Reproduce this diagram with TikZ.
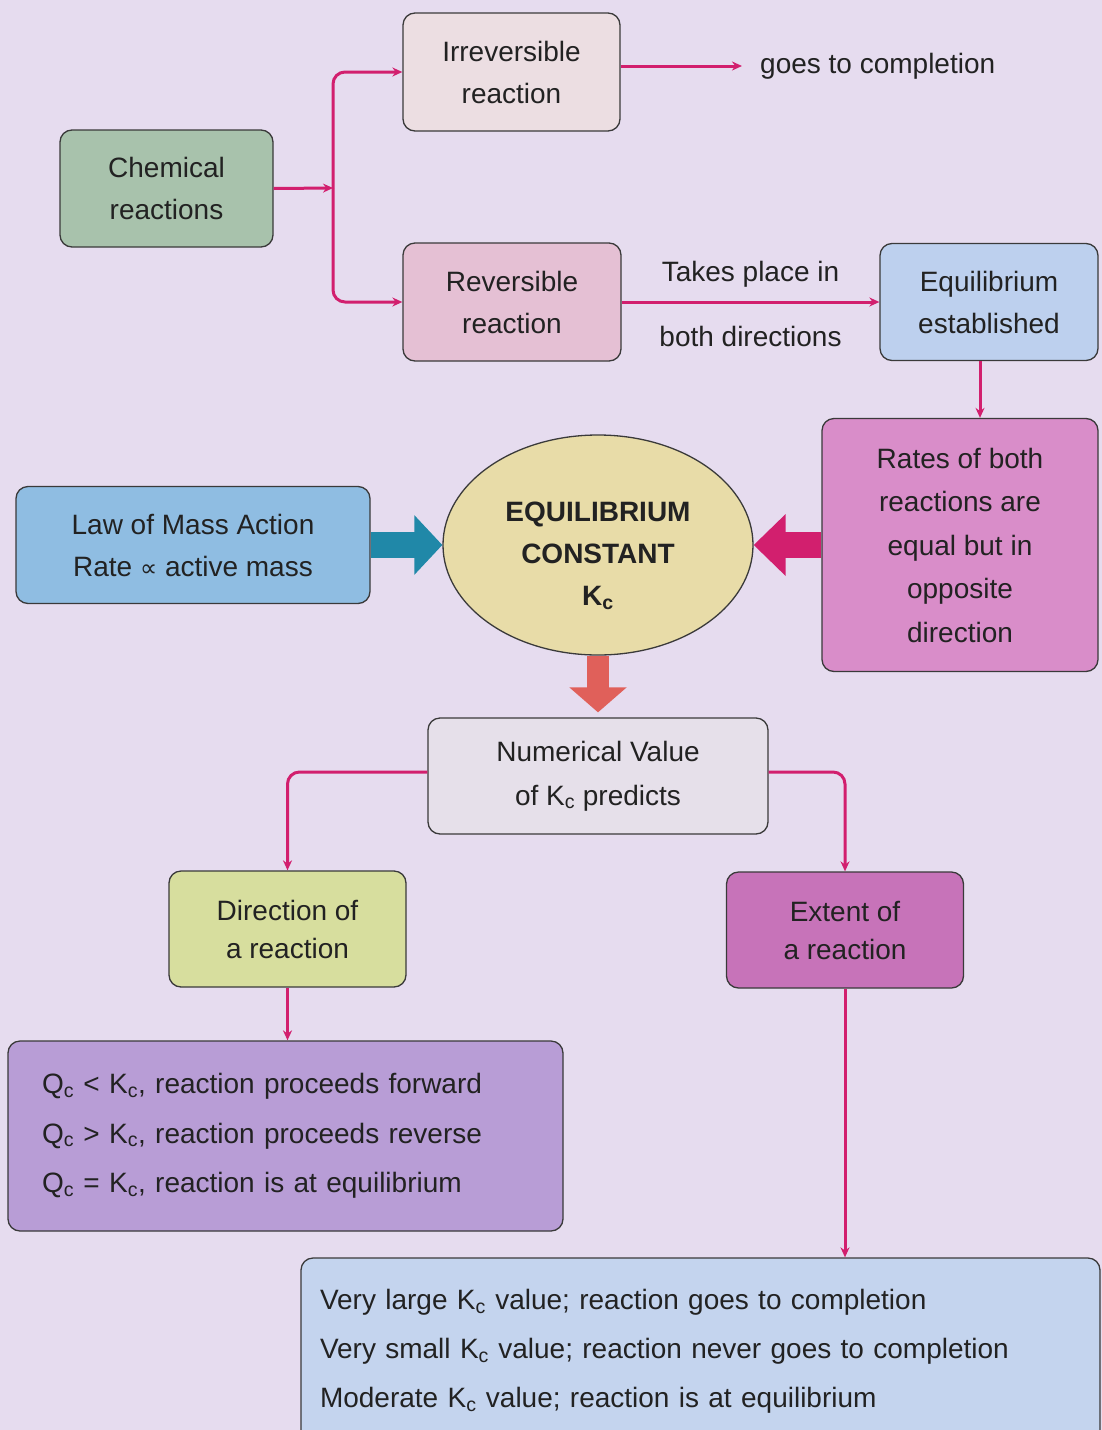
\documentclass[tikz,border=0pt]{standalone}
\usepackage{fontspec}
\setmainfont{Liberation Sans}
\newfontfamily\dejavu{DejaVu Sans}
\usetikzlibrary{arrows.meta,shapes.geometric}
\definecolor{bg}{HTML}{E6DCEF}
\definecolor{boxline}{HTML}{3A3A3A}
\definecolor{conncol}{HTML}{D21F6E}
\definecolor{chemfill}{HTML}{A8C2AC}
\definecolor{irrfill}{HTML}{ECDEE2}
\definecolor{revfill}{HTML}{E5C0D4}
\definecolor{eqbfill}{HTML}{BDD0EE}
\definecolor{ratesfill}{HTML}{D98DC9}
\definecolor{ellfill}{HTML}{E8DCA8}
\definecolor{lawfill}{HTML}{8FBDE2}
\definecolor{numfill}{HTML}{E6E0EA}
\definecolor{dirfill}{HTML}{D7DE9E}
\definecolor{extfill}{HTML}{C773B9}
\definecolor{qfill}{HTML}{B89DD6}
\definecolor{vfill}{HTML}{C4D4EE}
\definecolor{bluearrow}{HTML}{2088A8}
\definecolor{pinkarrow}{HTML}{D21F6E}
\definecolor{redarrow}{HTML}{E0605A}
\definecolor{txt}{HTML}{222222}
\newcommand\sbc{\textsubscript{c}}
\begin{document}
\begin{tikzpicture}[x=1pt,y=-1pt,
  box/.style={draw=boxline, line width=1.3pt, rounded corners=12pt, align=center,
    text=txt, font=\fontsize{28}{42}\selectfont, inner sep=0pt},
  conn/.style={draw=conncol, line width=3pt, -{Stealth[length=10pt,width=9pt]}},
  plain/.style={text=txt, font=\fontsize{28}{42}\selectfont, inner sep=0pt, align=center}
]
\useasboundingbox (0,0) rectangle (1102,1430);
\clip (0,0) rectangle (1102,1430);
\fill[bg] (0,0) rectangle (1102,1430);

% nodes
\node[box, fill=chemfill, minimum width=213pt, minimum height=117pt] (chem) at (166.5,188.5) {Chemical\\reactions};
\node[box, fill=irrfill, minimum width=217pt, minimum height=118pt] (irr) at (511.5,72) {Irreversible\\reaction};
\node[box, fill=revfill, minimum width=218pt, minimum height=118pt] (rev) at (512,302) {Reversible\\reaction};
\node[box, fill=eqbfill, minimum width=218pt, minimum height=117pt] (eqb) at (989,302) {Equilibrium\\established};
\node[plain, anchor=west] (goes) at (760,66) {goes to completion};
\node[box, fill=ratesfill, minimum width=276pt, minimum height=253pt, font=\fontsize{28}{43.5}\selectfont] (rates) at (960,545) {Rates of both\\reactions are\\equal but in\\opposite\\direction};
\node[box, shape=ellipse, rounded corners=0pt, fill=ellfill, minimum width=310pt, minimum height=220pt] (eq) at (598,545) {};
\node[plain, font=\bfseries\fontsize{28}{42}\selectfont] (eqtext) at (598,556) {EQUILIBRIUM\\CONSTANT\\K\sbc};
\node[box, fill=lawfill, minimum width=354pt, minimum height=117pt] (law) at (193,545) {Law of Mass Action\\Rate {\dejavu\fontsize{24}{24}\selectfont ∝} active mass};
\node[box, fill=numfill, minimum width=340pt, minimum height=116pt, font=\fontsize{28}{44}\selectfont] (num) at (598,776) {Numerical Value\\of K\sbc\ predicts};
\node[box, fill=dirfill, minimum width=237pt, minimum height=116pt, font=\fontsize{28}{38}\selectfont] (dir) at (287.5,929) {Direction of\\a reaction};
\node[box, fill=extfill, minimum width=237pt, minimum height=116pt, font=\fontsize{28}{38}\selectfont] (ext) at (845,930) {Extent of\\a reaction};
\node[box, fill=qfill, minimum width=555pt, minimum height=190pt, align=left, text width=487pt, font=\fontsize{28}{49.5}\selectfont] (qbox) at (285.5,1136)
  {Q\sbc\ < K\sbc, reaction proceeds forward\\Q\sbc\ > K\sbc, reaction proceeds reverse\\Q\sbc\ = K\sbc, reaction is at equilibrium};
\node[box, fill=vfill, minimum width=799pt, minimum height=187pt, align=left, text width=761pt, font=\fontsize{28}{49}\selectfont] (vbox) at (700.5,1351.5)
  {Very large K\sbc\ value; reaction goes to completion\\Very small K\sbc\ value; reaction never goes to completion\\Moderate K\sbc\ value; reaction is at equilibrium};

% connectors
\coordinate (junc) at (333,188);
\draw[conn] (chem.east) -- (junc);
\draw[conn, rounded corners=12pt] (junc) |- (irr.west);
\draw[conn, rounded corners=12pt] (junc) |- (rev.west);
\draw[conn, shorten >=18pt] (irr.east |- goes.west) -- (goes.west);
\draw[conn] (rev.east) -- (eqb.west)
  node[plain, midway, yshift=28pt] (lab1) {Takes place in}
  node[plain, midway, yshift=-34pt] (lab2) {both directions};
\draw[conn] ([xshift=-9pt]eqb.south) -- ([xshift=-9pt]eqb.south |- rates.north);
\draw[conn, rounded corners=12pt] ([yshift=4pt]num.west) -| (dir.north);
\draw[conn, rounded corners=12pt] ([yshift=4pt]num.east) -| (ext.north);
\draw[conn] (dir.south) -- (dir.south |- qbox.north);
\draw[conn] (ext.south) -- (ext.south |- vbox.north);

% big arrows
\draw[line width=26pt, bluearrow, -{Triangle[length=28pt,width=58pt]}] (law.east) -- (eq.west);
\draw[line width=26pt, pinkarrow, -{Triangle[length=32pt,width=60pt]}] (rates.west) -- (eq.east);
\draw[line width=22pt, redarrow, -{Triangle[length=25pt,width=56pt]}, shorten >=5pt] (eq.south) -- (num.north);
\end{tikzpicture}
\end{document}
